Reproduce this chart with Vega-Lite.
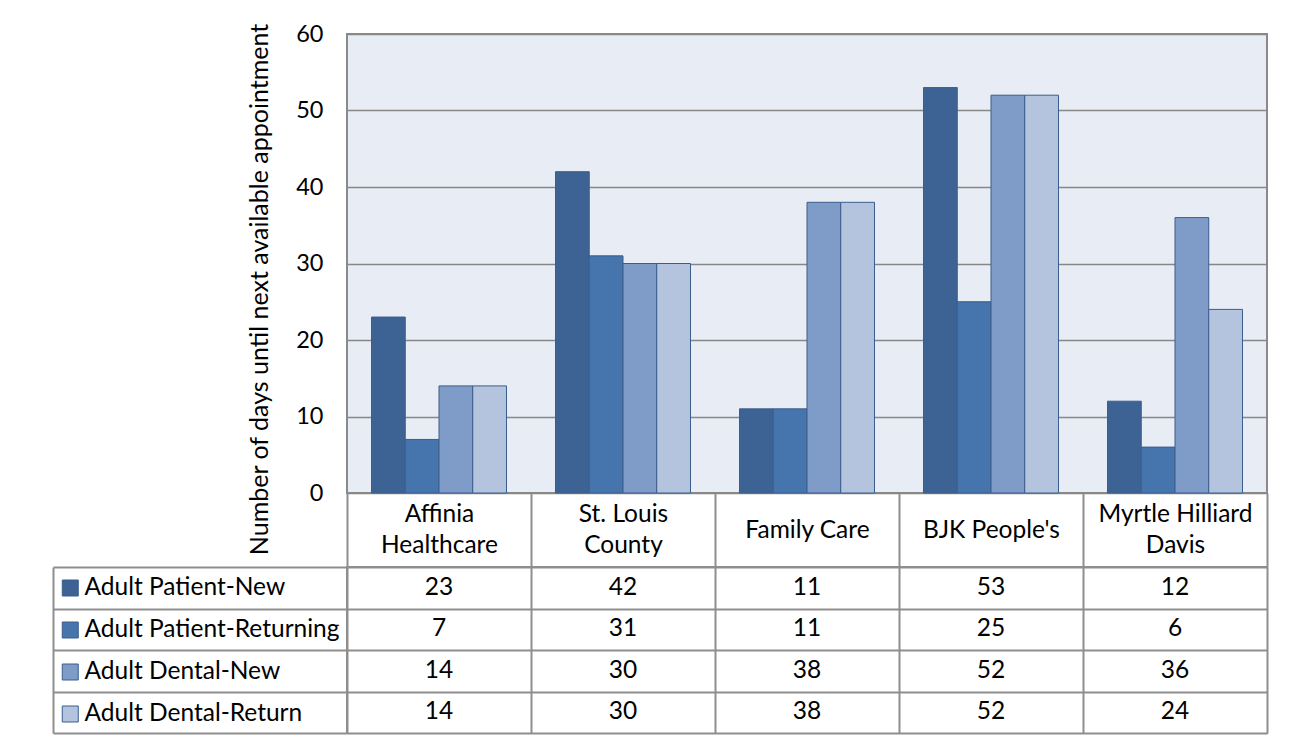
{
  "$schema": "https://vega.github.io/schema/vega-lite/v6.json",
  "background": "white",
  "padding": {"left": 51, "top": 21, "right": 5, "bottom": 5},
  "spacing": 74,
  "bounds": "flush",
  "data": {
    "values": [
      {"category": "Affinia Healthcare", "series": "Adult Patient-New", "value": 23},
      {"category": "Affinia Healthcare", "series": "Adult Patient-Returning", "value": 7},
      {"category": "Affinia Healthcare", "series": "Adult Dental-New", "value": 14},
      {"category": "Affinia Healthcare", "series": "Adult Dental-Return", "value": 14},
      {"category": "St. Louis County", "series": "Adult Patient-New", "value": 42},
      {"category": "St. Louis County", "series": "Adult Patient-Returning", "value": 31},
      {"category": "St. Louis County", "series": "Adult Dental-New", "value": 30},
      {"category": "St. Louis County", "series": "Adult Dental-Return", "value": 30},
      {"category": "Family Care", "series": "Adult Patient-New", "value": 11},
      {"category": "Family Care", "series": "Adult Patient-Returning", "value": 11},
      {"category": "Family Care", "series": "Adult Dental-New", "value": 38},
      {"category": "Family Care", "series": "Adult Dental-Return", "value": 38},
      {"category": "BJK People's", "series": "Adult Patient-New", "value": 53},
      {"category": "BJK People's", "series": "Adult Patient-Returning", "value": 25},
      {"category": "BJK People's", "series": "Adult Dental-New", "value": 52},
      {"category": "BJK People's", "series": "Adult Dental-Return", "value": 52},
      {"category": "Myrtle Hilliard Davis", "series": "Adult Patient-New", "value": 12},
      {"category": "Myrtle Hilliard Davis", "series": "Adult Patient-Returning", "value": 6},
      {"category": "Myrtle Hilliard Davis", "series": "Adult Dental-New", "value": 36},
      {"category": "Myrtle Hilliard Davis", "series": "Adult Dental-Return", "value": 24}
    ]
  },
  "vconcat": [
    {
      "width": 920,
      "height": 459,
      "view": {"fill": "#E8ECF5", "stroke": "#8A8A8A", "strokeWidth": 2},
      "mark": {"type": "bar", "stroke": "#3A5E8C", "strokeWidth": 1},
      "encoding": {
        "x": {
          "field": "category", "type": "nominal",
          "sort": ["Affinia Healthcare", "St. Louis County", "Family Care", "BJK People's", "Myrtle Hilliard Davis"],
          "scale": {"paddingInner": 0, "paddingOuter": 0},
          "axis": {
            "orient": "bottom", "title": null, "domain": false,
            "ticks": true, "tickBand": "extent", "tickSize": 74, "tickColor": "#8E8E8E", "tickWidth": 2,
            "labelAngle": 0, "labelBaseline": "middle", "labelAlign": "center",
            "labelPadding": {"condition": {"test": "datum.value == 'Family Care' || datum.value == \"BJK People's\"", "value": -37}, "value": -52.5},
            "labelFont": "Lato", "labelFontSize": 24.5, "labelColor": "black", "labelLineHeight": 31, "labelLimit": 0,
            "labelExpr": "datum.label == 'Affinia Healthcare' ? ['Affinia', 'Healthcare'] : datum.label == 'St. Louis County' ? ['St. Louis', 'County'] : datum.label == 'Myrtle Hilliard Davis' ? ['Myrtle Hilliard', 'Davis'] : datum.label"
          }
        },
        "xOffset": {
          "field": "series", "type": "nominal",
          "sort": ["Adult Patient-New", "Adult Patient-Returning", "Adult Dental-New", "Adult Dental-Return"],
          "scale": {"paddingInner": 0, "paddingOuter": 0.726}
        },
        "y": {
          "field": "value", "type": "quantitative",
          "scale": {"domain": [0, 60], "nice": false},
          "axis": {
            "values": [0, 10, 20, 30, 40, 50, 60],
            "grid": true, "gridColor": "#878787", "gridWidth": 1.5,
            "domain": false, "ticks": false, "tickSize": 0, "labelPadding": 24,
            "labelFont": "Lato", "labelFontSize": 23.5, "labelColor": "black",
            "title": "Number of days until next available appointment",
            "titleFont": "Lato", "titleFontSize": 25, "titleFontWeight": "normal", "titleColor": "black",
            "titleAngle": 270, "titleX": -88, "titleY": 255, "titleAlign": "center", "titleBaseline": "middle"
          }
        },
        "color": {
          "field": "series", "type": "nominal",
          "sort": ["Adult Patient-New", "Adult Patient-Returning", "Adult Dental-New", "Adult Dental-Return"],
          "scale": {"range": ["#3C6394", "#4674AD", "#7F9CC9", "#B4C4DE"]},
          "legend": {
            "orient": "none", "legendX": -289, "legendY": 541.75, "title": null, "padding": 0,
            "symbolType": "square", "symbolSize": 256, "symbolStrokeColor": "#3A5E8C", "symbolStrokeWidth": 1,
            "symbolOpacity": 1,
            "labelFont": "Lato", "labelFontSize": 24.5, "labelColor": "black", "labelOffset": 2, "labelLimit": 0,
            "rowPadding": 17
          }
        }
      }
    },
    {
      "width": 920,
      "height": 166,
      "view": {"fill": "white", "stroke": "#8E8E8E", "strokeWidth": 2},
      "encoding": {
        "x": {
          "field": "category", "type": "nominal",
          "sort": ["Affinia Healthcare", "St. Louis County", "Family Care", "BJK People's", "Myrtle Hilliard Davis"],
          "scale": {"paddingInner": 0, "paddingOuter": 0},
          "axis": {"orient": "bottom", "title": null, "labels": false, "ticks": false, "domain": false,
                   "grid": true, "tickBand": "extent", "gridColor": "#8E8E8E", "gridWidth": 2, "zindex": 1}
        }
      },
      "layer": [
        {
          "mark": {"type": "rect", "fill": "white"},
          "encoding": {
            "y": {
              "field": "series", "type": "nominal",
              "sort": ["Adult Patient-New", "Adult Patient-Returning", "Adult Dental-New", "Adult Dental-Return"],
              "scale": {"paddingInner": 0, "paddingOuter": 0},
              "axis": {"orient": "left", "offset": 294, "title": null, "labels": false, "ticks": false, "grid": false,
                       "domain": true, "domainColor": "#8E8E8E", "domainWidth": 2}
            }
          }
        },
        {
          "mark": {"type": "text", "font": "Lato", "fontSize": 24.5, "color": "black"},
          "encoding": {
            "text": {"field": "value", "type": "quantitative"},
            "y": {
              "field": "series", "type": "nominal",
              "sort": ["Adult Patient-New", "Adult Patient-Returning", "Adult Dental-New", "Adult Dental-Return"],
              "scale": {"paddingInner": 0, "paddingOuter": 0},
              "axis": {"orient": "left", "title": null, "labels": false, "domain": false,
                       "ticks": true, "tickBand": "extent", "tickSize": 294, "tickColor": "#8E8E8E", "tickWidth": 2,
                       "grid": true, "gridColor": "#8E8E8E", "gridWidth": 2, "zindex": 1}
            }
          }
        }
      ],
      "resolve": {"axis": {"y": "independent"}}
    }
  ]
}
